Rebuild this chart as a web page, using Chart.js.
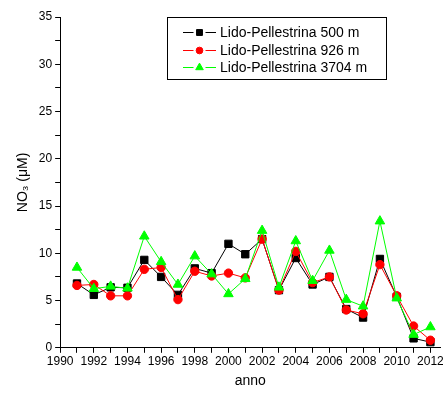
<!DOCTYPE html>
<html lang="it">
<head>
  <meta charset="UTF-8" />
  <title>NO3 Lido-Pellestrina</title>
  <script src="https://cdn.jsdelivr.net/npm/chart.js"></script>
  <style>
    html, body { margin: 0; padding: 0; background: #fff; overflow: hidden; }
    #wrap { position: relative; width: 447px; height: 393px; }
  </style>
</head>
<body>
  <div id="wrap"><canvas id="no3Chart"></canvas></div>

  <script>
    // anni
    const years = [1991, 1992, 1993, 1994, 1995, 1996, 1997, 1998, 1999, 2000, 2001,
                   2002, 2003, 2004, 2005, 2006, 2007, 2008, 2009, 2010, 2011, 2012];
    // NO3 (uM) per stazione
    const lido500  = [6.8, 5.6, 6.4, 6.35, 9.3, 7.5, 5.6, 8.4, 7.9, 11.0, 9.9,
                      11.5, 6.1, 9.5, 6.7, 7.5, 4.1, 3.2, 9.4, 5.4, 1.0, 0.6];
    const lido926  = [6.6, 6.7, 5.5, 5.5, 8.3, 8.5, 5.1, 8.1, 7.6, 7.9, 7.4,
                      11.5, 6.1, 10.2, 6.9, 7.5, 4.0, 3.6, 8.8, 5.5, 2.3, 0.8];
    const lido3704 = [8.5, 6.25, 6.5, 6.3, 11.8, 9.1, 6.7, 9.7, 7.8, 5.7, 7.3,
                      12.4, 6.4, 11.3, 7.1, 10.3, 5.1, 4.4, 13.4, 5.25, 1.4, 2.2];
    const seriesNames = ['Lido-Pellestrina 500 m', 'Lido-Pellestrina 926 m', 'Lido-Pellestrina 3704 m'];

    const FONT = "'Liberation Sans', Arial, sans-serif";
    const pts = arr => arr.map((v, i) => ({ x: years[i], y: v }));

    function ds(label, values, color, style, radius, order) {
      return {
        label,
        data: pts(values),
        borderColor: color,
        backgroundColor: color,
        borderWidth: 1,
        pointStyle: style,
        pointRadius: radius,
        pointBorderWidth: 1,
        pointBorderColor: color,
        pointBackgroundColor: color,
        tension: 0,
        order
      };
    }

    // legenda in riquadro dentro l'area del grafico
    const boxLegend = {
      id: 'boxLegend',
      afterDraw(chart) {
        const ctx = chart.ctx;
        const a = chart.chartArea;
        const x0 = Math.round(a.left + 107), y0 = Math.round(a.top), w = 219, h = 62;
        ctx.save();
        ctx.strokeStyle = '#000';
        ctx.lineWidth = 1;
        ctx.strokeRect(x0 + 0.5, y0 + 0.5, w, h);
        ctx.font = '14px ' + FONT;
        ctx.textBaseline = 'middle';
        chart.data.datasets.forEach((d, i) => {
          const y = Math.round(y0 + 15 + i * 17.5) + 0.5;
          const lx = x0 + 16;
          const mx = lx + 16.5;
          ctx.strokeStyle = d.borderColor;
          ctx.lineWidth = 1;
          ctx.beginPath();
          ctx.moveTo(lx, y);
          ctx.lineTo(mx - 6, y);
          ctx.moveTo(mx + 6, y);
          ctx.lineTo(lx + 33, y);
          ctx.stroke();
          ctx.fillStyle = d.borderColor;
          Chart.helpers.drawPoint(ctx, {
            pointStyle: d.pointStyle, radius: d.pointRadius * 0.8, borderWidth: 1
          }, mx, y);
          ctx.fillStyle = '#000';
          ctx.fillText(d.label, lx + 37, y + 0.5);
        });
        ctx.restore();
      }
    };

    new Chart(document.getElementById('no3Chart'), {
      type: 'line',
      data: {
        datasets: [
          ds(seriesNames[0], lido500, '#000000', 'rect', 5.2, 3),
          ds(seriesNames[1], lido926, '#ff0000', 'circle', 4.2, 2),
          ds(seriesNames[2], lido3704, '#00ff00', 'triangle', 5.5, 1)
        ]
      },
      options: {
        responsive: true,
        maintainAspectRatio: false,
        animation: false,
        layout: { padding: { top: 17, left: 7, right: 0, bottom: 0 } },
        plugins: {
          legend: { display: false },
          tooltip: { enabled: false }
        },
        scales: {
          x: {
            type: 'linear',
            min: 1990,
            max: 2012.6,
            grid: { drawOnChartArea: false, drawTicks: true, tickLength: 5, color: '#000', tickColor: '#000' },
            border: { display: true, color: '#000', width: 1 },
            ticks: {
              stepSize: 1,
              includeBounds: false,
              autoSkip: false,
              maxRotation: 0,
              padding: 2,
              color: '#000',
              font: { family: FONT, size: 12 },
              callback: v => (v % 2 === 0 ? String(v) : '')
            },
            title: {
              display: true,
              text: 'anno',
              color: '#000',
              font: { family: FONT, size: 14 },
              padding: { top: 2, bottom: 3 }
            }
          },
          y: {
            min: 0,
            max: 35,
            grid: { drawOnChartArea: false, drawTicks: true, tickLength: 5, color: '#000', tickColor: '#000' },
            border: { display: true, color: '#000', width: 1 },
            ticks: {
              stepSize: 2.5,
              autoSkip: false,
              padding: 3,
              color: '#000',
              font: { family: FONT, size: 12 },
              callback: v => (v % 5 === 0 ? String(v) : '')
            },
            title: {
              display: true,
              text: 'NO₃ (μM)',
              color: '#000',
              font: { family: FONT, size: 14 },
              padding: { top: 8, bottom: 4 }
            }
          }
        }
      },
      plugins: [boxLegend]
    });
  </script>
</body>
</html>
